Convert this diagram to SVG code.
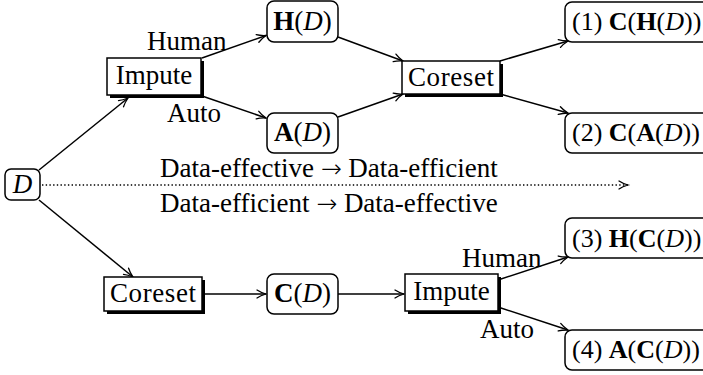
<svg xmlns="http://www.w3.org/2000/svg" width="703" height="375" viewBox="0 0 703 375">
  <style>
    text { font-family: "Liberation Serif", "Times New Roman", serif; font-size: 27px; fill: #000; }
    .box { fill: #fff; stroke: #000; stroke-width: 1.5; }
    .shadow { fill: #000; }
    .edge { fill: none; stroke: #000; stroke-width: 1.5; marker-end: url(#arrow); }
    .dotted { fill: none; stroke: #000; stroke-width: 1.4; stroke-dasharray: 1.4 2.3; marker-end: url(#arrow); }
    .b { font-weight: bold; }
    .i { font-style: italic; }
    .c { text-anchor: middle; }
    .r { font-size: 26px; }
    .arr { font-family: "DejaVu Sans", sans-serif; font-weight: 200; font-size: 25px; }
  </style>
  <defs>
    <marker id="arrow" markerUnits="userSpaceOnUse" markerWidth="14" markerHeight="12" viewBox="-11 -6 13 12" refX="0" refY="0" orient="auto" overflow="visible">
      <path d="M-9,-4 C-6,-2 -2,-0.6 0,0 C-2,0.6 -6,2 -9,4" fill="none" stroke="#000" stroke-width="1.3" stroke-linecap="round"/>
    </marker>
  </defs>

  <!-- connectors -->
  <g id="connectors">
    <path class="edge" d="M39,170 L128,98"/>
    <path class="edge" d="M39,200 L133,277"/>
    <path class="edge" d="M202,58 L266,35.5"/>
    <path class="edge" d="M202,96 L266,118"/>
    <path class="edge" d="M338,37 L403,61"/>
    <path class="edge" d="M338,117 L403,94"/>
    <path class="edge" d="M500,61 L568,41"/>
    <path class="edge" d="M500,94 L568,113"/>
    <path class="edge" d="M205,294 L266,294"/>
    <path class="edge" d="M338,294 L404,294"/>
    <path class="edge" d="M498,280 L568,257"/>
    <path class="edge" d="M498,307 L568,330"/>
    <path class="dotted" d="M42,185 L628,185"/>
    <text x="147" y="50">Human</text>
    <text x="167" y="122">Auto</text>
    <text x="462" y="267">Human</text>
    <text x="480" y="338">Auto</text>
    <text x="160" y="177">Data-effective <tspan class="arr">→</tspan> Data-efficient</text>
    <text x="160" y="212">Data-efficient <tspan class="arr">→</tspan> Data-effective</text>
  </g>

  <!-- source data -->
  <g id="node-d">
    <rect class="box" x="5" y="169" width="35" height="31" rx="6"/>
    <text class="c i" x="22.5" y="193">D</text>
  </g>

  <!-- upper branch: impute first, then coreset -->
  <g id="node-impute-top">
    <rect class="shadow" x="110" y="61" width="94" height="37"/>
    <rect class="box" x="107" y="58" width="94" height="37"/>
    <text class="c" x="154" y="84">Impute</text>
  </g>
  <g id="node-hd">
    <rect class="box" x="267" y="1" width="71" height="41" rx="7"/>
    <text class="c" x="302.5" y="30"><tspan class="b">H</tspan>(<tspan class="i">D</tspan>)</text>
  </g>
  <g id="node-ad">
    <rect class="box" x="267" y="113" width="71" height="40" rx="7"/>
    <text class="c" x="302.5" y="141"><tspan class="b">A</tspan>(<tspan class="i">D</tspan>)</text>
  </g>
  <g id="node-coreset-top">
    <rect class="shadow" x="405" y="64" width="98" height="33"/>
    <rect class="box" x="402" y="61" width="98" height="33"/>
    <text class="c" x="451" y="86" textLength="86" lengthAdjust="spacing">Coreset</text>
  </g>
  <g id="node-chd">
    <rect class="box" x="565" y="2" width="150" height="40" rx="7"/>
    <text class="r" x="572" y="30">(1) <tspan class="b">C</tspan>(<tspan class="b">H</tspan>(<tspan class="i">D</tspan>))</text>
  </g>
  <g id="node-cad">
    <rect class="box" x="565" y="113" width="150" height="40" rx="7"/>
    <text class="r" x="572" y="141">(2) <tspan class="b">C</tspan>(<tspan class="b">A</tspan>(<tspan class="i">D</tspan>))</text>
  </g>

  <!-- lower branch: coreset first, then impute -->
  <g id="node-coreset-bottom">
    <rect class="shadow" x="107" y="280" width="98" height="34"/>
    <rect class="box" x="104" y="277" width="98" height="34"/>
    <text class="c" x="153" y="302" textLength="86" lengthAdjust="spacing">Coreset</text>
  </g>
  <g id="node-cd">
    <rect class="box" x="267" y="274" width="71" height="40" rx="7"/>
    <text class="c" x="302.5" y="302"><tspan class="b">C</tspan>(<tspan class="i">D</tspan>)</text>
  </g>
  <g id="node-impute-bottom">
    <rect class="shadow" x="408" y="277" width="93" height="37"/>
    <rect class="box" x="405" y="274" width="93" height="37"/>
    <text class="c" x="451.5" y="300">Impute</text>
  </g>
  <g id="node-hcd">
    <rect class="box" x="565" y="218" width="150" height="40" rx="7"/>
    <text class="r" x="572" y="247">(3) <tspan class="b">H</tspan>(<tspan class="b">C</tspan>(<tspan class="i">D</tspan>))</text>
  </g>
  <g id="node-acd">
    <rect class="box" x="565" y="330" width="150" height="40" rx="7"/>
    <text class="r" x="572" y="358">(4) <tspan class="b">A</tspan>(<tspan class="b">C</tspan>(<tspan class="i">D</tspan>))</text>
  </g>
</svg>
